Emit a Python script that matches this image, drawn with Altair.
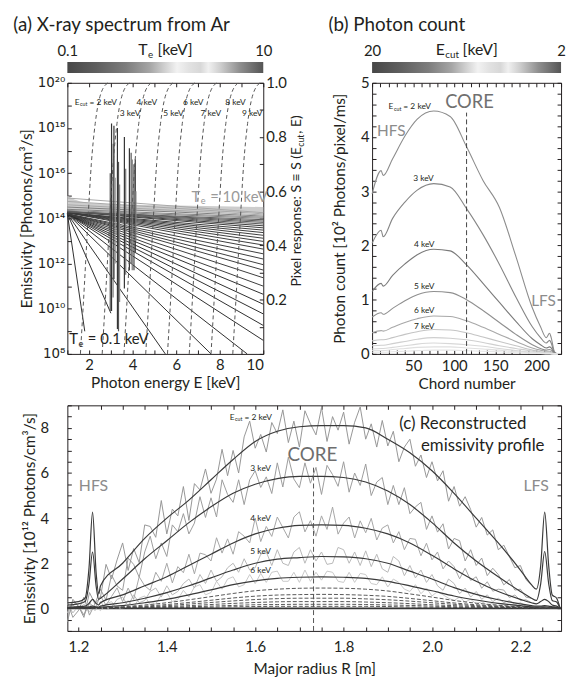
import altair as alt
import pandas as pd

FONT = "Lato"
SUP_FONT = "DejaVu Sans"
INK = "#231f20"
SOFT = "#8c8c8c"

WA, HA = 198, 274
WB = 191
GAP = 110
XB0 = WA + GAP            # left edge of panel (b)
W = XB0 + WB              # full plot width
WC, HC = W, 228
YC0 = HA + 52             # top edge of panel (c)
H = YC0 + HC              # full plot height
TICK_IN = alt.ExprRef(expr="-4")
SMALL = 8.5               # size of the small E_cut labels

# ---------------- colour bar stops ----------------
cb_offsets = [0.0, 0.15, 0.3, 0.42, 0.5, 0.56, 0.62, 0.68, 0.72, 0.78, 0.88, 1.0]
cb_colors = ["#474747", "#5f5f5f", "#7d7d7d", "#a5a5a5", "#d2d2d2", "#f2f2f2",
             "#e2e2e2", "#d8d8d8", "#f0f0f0", "#cfcfcf", "#8f8f8f", "#555555"]

# ---------------- (a) X-ray spectrum ----------------
energy_range = [1, 10]
log_eps_range = [8, 20]
s_range = [0, 1]
te_range = [0.1, 10]

cont_y0 = [14.2, 14.2, 14.2, 14.2, 14.2, 14.2, 14.2, 14.2, 14.2, 14.2, 14.2, 14.2, 14.2, 14.2, 14.2, 14.2,
           14.25, 14.25, 14.25, 14.25, 14.25, 14.25, 14.25,
           14.3, 14.3, 14.3, 14.3, 14.3, 14.3,
           14.35, 14.4, 14.5, 14.6, 14.75, 14.9]
cont_end_e = [1.8, 3.0, 5.5, 7.6, 9.26] + [10.0] * 30
cont_end_y = [9.0, 9.8, 8.0, 8.0, 8.0, 8.6, 9.26, 9.77, 10.2, 10.64,
              11.0, 11.37, 11.71, 11.95, 12.2, 12.43, 12.64, 12.82, 12.98, 13.12,
              13.25, 13.37, 13.48, 13.58, 13.67, 13.75, 13.82, 13.88, 13.94, 14.0,
              14.05, 14.1, 14.15, 14.2, 14.25]
cont_color = ["#2e2e2e"] * 10 + ["#3c3c3c"] * 15 + ["#5a5a5a"] * 4 + ["#808080"] * 3 + ["#a8a8a8"] * 3

band_e = [1.0, 1.3, 1.6, 2.0, 3.0, 4.0, 6.0, 8.0, 10.0]
band_top = [15.0, 14.85, 14.75, 14.68, 14.62, 14.6, 14.57, 14.54, 14.5]
band_bot = [14.4, 14.38, 14.36, 14.35, 14.33, 14.31, 14.28, 14.26, 14.25]

spike_e = [2.97, 3.03, 3.10, 3.14, 3.20, 3.30, 3.35, 3.40, 3.62, 3.68, 3.85, 3.93, 3.98, 4.06, 4.12, 4.15]
spike_top = [16.0, 18.2, 17.3, 18.1, 15.8, 18.0, 16.5, 15.5, 17.6, 16.2, 17.1, 16.9, 16.6, 16.4, 16.6, 15.2]
spike_bot = [9.9, 9.9, 10.5, 11.3, 12.0, 9.1, 9.0, 10.3, 10.9, 11.5, 11.7, 12.0, 11.7, 11.7, 12.5, 13.0]
spike_color = ["#555555", "#333333", "#777777", "#333333", "#999999", "#333333", "#555555", "#888888",
               "#333333", "#777777", "#333333", "#555555", "#777777", "#444444", "#333333", "#888888"]

ecut_a = [2, 3, 4, 5, 6, 7, 8, 9]
s_levels = [0.0, 0.25, 0.5, 0.7, 0.85, 0.95, 1.0]
s_curve_e = [
    [1.6, 1.78, 1.95, 2.1, 2.28, 2.5, 2.85],
    [2.6, 2.78, 2.95, 3.1, 3.28, 3.5, 3.85],
    [3.6, 3.78, 3.95, 4.1, 4.28, 4.5, 4.85],
    [4.6, 4.78, 4.95, 5.1, 5.28, 5.5, 5.85],
    [5.6, 5.78, 5.95, 6.1, 6.28, 6.5, 6.85],
    [6.6, 6.78, 6.95, 7.1, 7.28, 7.5, 7.85],
    [7.6, 7.78, 7.95, 8.1, 8.28, 8.5, 8.85],
    [8.6, 8.78, 8.95, 9.1, 9.28, 9.5, 9.85],
]
a_lab_text = ["3 keV", "4 keV", "5 keV", "6 keV", "7 keV", "8 keV", "9 keV"]
a_lab_e = [3.41, 4.18, 5.40, 6.31, 7.12, 8.25, 9.02]
a_lab_s = [0.89, 0.93, 0.89, 0.93, 0.89, 0.93, 0.89]

# ---------------- (b) photon count ----------------
chord_range = [0, 230]
count_range = [0, 5]
ecut_range = [2, 20]
chord = [0, 11, 13.5, 25, 40, 55, 75, 95, 115, 135, 155, 175, 195, 205, 212, 216, 218, 222, 226]
count_ecut = [2, 3, 4, 5, 6, 7, 8, 9, 10, 12]
count_vals = [
    [2.95, 3.38, 3.29, 3.6, 4.02, 4.33, 4.48, 4.38, 3.82, 3.2, 2.7, 1.8, 0.85, 0.5, 0.3, 0.38, 0.3, 0.04, 0.0],
    [2.04, 2.28, 2.16, 2.5, 2.8, 3.02, 3.14, 3.08, 2.68, 2.2, 1.65, 1.05, 0.5, 0.3, 0.2, 0.25, 0.2, 0.02, 0.0],
    [1.15, 1.3, 1.25, 1.45, 1.66, 1.83, 1.93, 1.9, 1.64, 1.3, 0.95, 0.6, 0.28, 0.17, 0.11, 0.13, 0.11, 0.01, 0.0],
    [0.68, 0.76, 0.73, 0.84, 0.98, 1.09, 1.15, 1.13, 1.0, 0.8, 0.58, 0.36, 0.17, 0.1, 0.07, 0.08, 0.07, 0.01, 0.0],
    [0.39, 0.43, 0.42, 0.49, 0.58, 0.65, 0.7, 0.69, 0.61, 0.49, 0.36, 0.23, 0.11, 0.07, 0.05, 0.05, 0.04, 0.0, 0.0],
    [0.24, 0.26, 0.26, 0.3, 0.36, 0.41, 0.45, 0.44, 0.39, 0.31, 0.23, 0.15, 0.07, 0.04, 0.03, 0.03, 0.02, 0.0, 0.0],
    [0.15, 0.16, 0.16, 0.19, 0.23, 0.27, 0.3, 0.29, 0.26, 0.21, 0.15, 0.1, 0.05, 0.03, 0.02, 0.02, 0.01, 0.0, 0.0],
    [0.09, 0.1, 0.1, 0.12, 0.15, 0.18, 0.2, 0.19, 0.17, 0.14, 0.1, 0.06, 0.03, 0.02, 0.01, 0.01, 0.01, 0.0, 0.0],
    [0.06, 0.06, 0.06, 0.08, 0.1, 0.12, 0.13, 0.13, 0.11, 0.09, 0.07, 0.04, 0.02, 0.01, 0.01, 0.01, 0.0, 0.0, 0.0],
    [0.03, 0.03, 0.03, 0.04, 0.05, 0.06, 0.07, 0.07, 0.06, 0.05, 0.04, 0.02, 0.01, 0.01, 0.0, 0.0, 0.0, 0.0, 0.0],
]
count_color = ["#8c8c8c", "#858585", "#7a7a7a", "#8f8f8f", "#a8a8a8", "#c4c4c4", "#cfcfcf", "#d8d8d8", "#e0e0e0", "#e6e6e6"]
core_chord = 115
b_lab_text = ["3 keV", "4 keV", "5 keV", "6 keV", "7 keV"]
b_lab_chord = [50, 51, 51, 51, 51]
b_lab_val = [3.24, 2.03, 1.26, 0.80, 0.52]

# ---------------- (c) reconstructed emissivity ----------------
radius_range = [1.175, 2.292]
emis_range = [-1, 9]
core_r = 1.732
fit_main_r = [1.25, 1.30, 1.35, 1.40, 1.45, 1.50, 1.55, 1.60, 1.65, 1.70, 1.75,
              1.80, 1.85, 1.90, 1.95, 2.00, 2.05, 2.10, 2.15, 2.20, 2.225]
fit_left_r = [1.175, 1.20, 1.215, 1.224, 1.232, 1.240, 1.246]
fit_right_r = [2.236, 2.246, 2.255, 2.264, 2.272, 2.282, 2.29]
fit_main = {
    2: [1.0, 2.0, 3.1, 4.0, 4.8, 5.7, 6.6, 7.4, 7.85, 8.05, 8.1, 8.1, 8.0, 7.5, 6.9, 6.1, 5.1, 4.0, 2.9, 1.7, 1.05],
    3: [0.45, 1.3, 2.2, 3.0, 3.8, 4.5, 5.1, 5.5, 5.75, 5.85, 5.85, 5.8, 5.6, 5.2, 4.6, 3.8, 2.9, 2.1, 1.4, 0.75, 0.45],
    4: [0.25, 0.6, 1.0, 1.4, 1.9, 2.4, 2.9, 3.3, 3.55, 3.68, 3.7, 3.68, 3.55, 3.3, 2.9, 2.35, 1.75, 1.2, 0.75, 0.4, 0.25],
    5: [0.1, 0.25, 0.45, 0.7, 1.0, 1.35, 1.7, 2.0, 2.18, 2.25, 2.3, 2.28, 2.2, 2.0, 1.65, 1.3, 0.92, 0.62, 0.38, 0.2, 0.12],
    6: [0.05, 0.12, 0.25, 0.4, 0.6, 0.82, 1.05, 1.22, 1.33, 1.38, 1.4, 1.38, 1.33, 1.2, 1.0, 0.78, 0.55, 0.37, 0.22, 0.12, 0.07],
    7: [0.03, 0.07, 0.15, 0.25, 0.38, 0.52, 0.66, 0.78, 0.85, 0.89, 0.9, 0.89, 0.85, 0.77, 0.64, 0.5, 0.35, 0.23, 0.14, 0.07, 0.04],
    8: [0.02, 0.05, 0.1, 0.17, 0.26, 0.36, 0.46, 0.54, 0.59, 0.61, 0.62, 0.61, 0.58, 0.53, 0.44, 0.34, 0.24, 0.16, 0.1, 0.05, 0.03],
    9: [0.01, 0.03, 0.07, 0.12, 0.19, 0.26, 0.33, 0.39, 0.43, 0.45, 0.45, 0.45, 0.42, 0.38, 0.32, 0.25, 0.18, 0.12, 0.07, 0.04, 0.02],
    10: [0.01, 0.02, 0.05, 0.08, 0.12, 0.17, 0.22, 0.26, 0.29, 0.3, 0.3, 0.3, 0.28, 0.25, 0.21, 0.16, 0.12, 0.08, 0.05, 0.03, 0.01],
    12: [0.0, 0.01, 0.03, 0.05, 0.07, 0.1, 0.13, 0.16, 0.17, 0.18, 0.18, 0.18, 0.17, 0.15, 0.13, 0.1, 0.07, 0.05, 0.03, 0.02, 0.01],
    15: [0.0, 0.01, 0.01, 0.02, 0.04, 0.05, 0.07, 0.08, 0.09, 0.09, 0.09, 0.09, 0.09, 0.08, 0.06, 0.05, 0.04, 0.02, 0.01, 0.01, 0.0],
}
fit_left = {
    2: [0.25, 0.3, 0.45, 1.8, 4.27, 1.6, 0.65],
    3: [0.15, 0.2, 0.3, 1.1, 2.5, 1.0, 0.4],
    4: [0.05, 0.08, 0.1, 0.22, 0.4, 0.22, 0.15],
    5: [0.02, 0.03, 0.05, 0.07, 0.1, 0.07, 0.06],
    6: [0.01, 0.02, 0.02, 0.03, 0.04, 0.03, 0.03],
}
fit_right = {
    2: [0.85, 1.9, 4.27, 1.9, 0.6, 0.45, 0.0],
    3: [0.35, 1.1, 2.52, 1.1, 0.35, 0.28, 0.0],
    4: [0.2, 0.3, 0.4, 0.3, 0.15, 0.1, 0.0],
    5: [0.1, 0.1, 0.12, 0.1, 0.07, 0.05, 0.0],
    6: [0.06, 0.06, 0.07, 0.06, 0.04, 0.03, 0.0],
}
noise_r = [round(1.175 + 0.0125 * k, 4) for k in range(85)]
noisy = {
    2: [-0.6, 0.4, 0.1, -0.4, 0.7, 0.2,
        0.5, 1.95, 1.3, 2.15, 2.9, 1.68, 2.65, 2.03, 3.7, 3.63,
        3.15, 4.78, 3.3, 4.4, 4.1, 5.4, 3.9, 5.53, 5.25, 6.18,
        5.1, 5.73, 7.05, 5.88, 7.0, 6.0, 7.6, 8.3, 7.1, 7.71,
        6.93, 8.24, 7.75, 8.8, 7.35, 8.3, 7.15, 8.76, 8.18, 7.69,
        8.9, 7.4, 8.5, 7.9, 8.7, 7.28, 8.25, 8.93, 7.5, 8.18,
        7.15, 8.33, 7.2, 7.85, 6.5, 7.15, 7.5, 6.3, 6.8, 5.8,
        6.5, 5.65, 6.1, 4.75, 5.4, 4.53, 4.95, 4.38, 3.6, 4.03,
        3.25, 3.48, 2.6, 2.8, 2.3, 1.8, 1.9, 1.28, 1.05],
    3: [0.3, -0.4, -0.1, 0.5, -0.3, 0.2,
        0.85, 0.36, 1.48, 0.99, 0.8, 2.23, 1.95, 1.38, 2.5, 3.2,
        2.2, 2.9, 2.3, 3.7, 3.4, 4.2, 3.3, 3.78, 4.95, 4.03,
        4.9, 4.05, 5.7, 5.05, 4.7, 5.7, 4.6, 5.7, 6.1, 5.36,
        5.83, 5.09, 6.45, 5.38, 6.7, 5.73, 5.35, 6.45, 5.55, 6.25,
        5.05, 6.34, 5.93, 5.41, 6.5, 5.15, 6.0, 5.45, 6.4, 5.0,
        5.6, 5.8, 4.6, 5.45, 4.6, 5.35, 4.2, 4.5, 4.7, 3.5,
        4.1, 3.38, 3.75, 2.63, 3.1, 3.0, 2.1, 2.6, 1.9, 2.23,
        1.45, 1.78, 1.5, 1.04, 1.28, 0.81, 0.85, 0.5, 0.45],
    4: [-0.2, 0.3, 0.1, -0.3, 0.25, 0.0,
        0.55, 0.14, 0.53, 0.91, 0.3, 0.9, 0.4, 1.4, 1.0, 0.8,
        1.6, 1.2, 2.0, 1.13, 1.85, 1.58, 2.4, 1.53, 2.45, 2.38,
        2.1, 3.13, 2.45, 3.08, 2.4, 3.4, 3.2, 2.9, 4.0, 2.96,
        3.63, 3.19, 4.05, 3.58, 3.12, 4.05, 4.28, 3.39, 3.89, 3.2,
        4.1, 3.5, 4.49, 3.29, 3.78, 4.05, 3.12, 3.88, 3.35, 3.99,
        3.03, 3.56, 3.7, 2.9, 3.4, 2.6, 3.1, 3.06, 2.33, 2.89,
        2.15, 2.5, 1.75, 2.1, 1.85, 1.31, 1.78, 1.24, 1.4, 0.89,
        1.18, 0.76, 0.85, 0.81, 0.48, 0.59, 0.35, 0.38, 0.25],
    5: [0.2, -0.2, 0.1, -0.3, 0.2, -0.1,
        0.3, -0.05, 0.05, 0.4, 0.5, 0.1, 0.6, 0.25, 0.35, 0.75,
        0.9, 0.5, 1.0, 0.6, 0.75, 1.1, 1.3, 0.9, 1.5, 1.1,
        1.7, 1.2, 1.4, 1.8, 2.0, 1.6, 2.2, 1.7, 1.8, 2.4,
        2.5, 1.9, 2.6, 2.0, 1.9, 2.5, 2.7, 2.0, 2.6, 2.1,
        2.5, 1.95, 2.0, 2.7, 2.6, 2.0, 2.5, 1.9, 2.55, 1.85,
        2.4, 1.75, 1.6, 2.3, 2.1, 1.45, 1.9, 1.35, 1.7, 1.15,
        1.5, 1.0, 0.8, 1.3, 1.1, 0.65, 0.9, 0.5, 0.75, 0.4,
        0.6, 0.3, 0.45, 0.25, 0.35, 0.18, 0.25, 0.1, 0.12],
    6: [-0.2, 0.15, -0.1, 0.2, -0.15, 0.1,
        -0.1, 0.2, 0.3, -0.05, 0.0, 0.35, 0.05, 0.45, 0.55, 0.15,
        0.2, 0.6, 0.7, 0.3, 0.4, 0.8, 0.5, 0.95, 1.05, 0.6,
        0.7, 1.2, 0.85, 1.3, 1.4, 0.95, 1.05, 1.5, 1.1, 1.55,
        1.15, 1.6, 1.65, 1.2, 1.2, 1.6, 1.15, 1.7, 1.2, 1.6,
        1.25, 1.65, 1.6, 1.2, 1.15, 1.6, 1.15, 1.55, 1.5, 1.1,
        1.05, 1.4, 0.95, 1.3, 1.15, 0.85, 0.75, 1.05, 0.65, 0.9,
        0.55, 0.75, 0.6, 0.45, 0.35, 0.5, 0.28, 0.4, 0.2, 0.3,
        0.15, 0.22, 0.1, 0.17, 0.06, 0.12, 0.04, 0.09, 0.05],
}
noisy_color = {2: "#969696", 3: "#9c9c9c", 4: "#a6a6a6", 5: "#b8b8b8", 6: "#c8c8c8"}
c_lab_text = ["3 keV", "4 keV", "5 keV", "6 keV"]
c_lab_r = [1.589, 1.589, 1.589, 1.589]
c_lab_val = [6.2, 3.99, 2.52, 1.72]

# ---------------- helpers ----------------
GRAD = {"gradient": "linear", "x1": 0, "x2": 1, "y1": 0, "y2": 0,
        "stops": [{"offset": o, "color": c} for o, c in zip(cb_offsets, cb_colors)]}
ONE = pd.DataFrame({"k": [0]})
RA = [0, WA]          # x pixel range of panel (a)
RB = [XB0, W]         # x pixel range of panel (b)
RC = [0, W]           # x pixel range of panel (c)
RY_TOP = [HA, 0]      # y pixel range of panels (a), (b)
RY_C = [H, YC0]       # y pixel range of panel (c)


def qx(field, dom, rng, axis=None, log=False, reverse=False):
    kw = dict(domain=dom, nice=False, range=rng)
    if log:
        sc = alt.Scale(type="log", reverse=reverse, **kw)
    else:
        sc = alt.Scale(zero=False, **kw)
    return alt.X(field, type="quantitative", scale=sc, axis=axis)


def qy(field, dom, rng, axis=None):
    return alt.Y(field, type="quantitative",
                 scale=alt.Scale(domain=dom, nice=False, zero=False, range=rng), axis=axis)


def axis(orient, values, expr=None, pad=7, font=FONT, size=15, labels=True, title=None, tx=None, ty=None,
         offset=None):
    kw = dict(orient=orient, values=values, tickSize=TICK_IN, tickColor=INK, tickWidth=1,
              domainColor=INK, domainWidth=1, grid=False, labels=labels, labelOverlap=False)
    if offset is not None:
        kw["offset"] = offset
    if labels:
        kw.update(labelFont=font, labelFontSize=size, labelColor=INK, labelPadding=pad)
        if expr:
            kw["labelExpr"] = expr
    if title:
        kw.update(title=title, titleFont=FONT, titleFontSize=15.5, titleFontWeight="normal", titleColor=INK,
                  titleX=tx, titleY=ty, titleBaseline="middle", titleAlign="center")
    else:
        kw["title"] = None
    return alt.Axis(**kw)


def composed(enc, base, sub, rest, size, color, d, wsub, angle=None, df=None):
    src = df if df is not None else ONE
    common = dict(font=FONT, color=color, baseline="middle")
    if angle is not None:
        common["angle"] = angle
    parts = [
        alt.Chart(src).mark_text(text=base, align="right", dx=d, fontSize=size, **common),
        alt.Chart(src).mark_text(text=sub, align="left", dx=d + 0.5, dy=round(size * 0.3, 1),
                                 fontSize=round(size * 0.62, 1), **common),
        alt.Chart(src).mark_text(text=rest, align="left", dx=d + wsub, fontSize=size, **common),
    ]
    return [p.encode(**enc) for p in parts]


def colorbar(dom, values, expr, reverse, rng):
    df = pd.DataFrame({"lo": [dom[0]], "hi": [dom[1]]})
    ax = alt.Axis(orient="top", values=values, offset=21, ticks=False, domain=False, grid=False,
                  labelFlush=False, labelPadding=4, labelFont=FONT, labelFontSize=15, labelColor=INK,
                  labelExpr=expr, title=None, labelOverlap=False)
    return alt.Chart(df).mark_rect(color=GRAD).encode(
        x=qx("lo:Q", dom, rng, ax, log=True, reverse=reverse), x2="hi:Q",
        y=alt.value(-21), y2=alt.value(-10))


def panel_title(text, x):
    return alt.Chart(ONE).mark_text(text=text, align="left", baseline="alphabetic", font=FONT,
                                    fontSize=19, color=INK).encode(x=alt.value(x), y=alt.value(-52))


def simple_text(df, xdom, ydom, xr, yr, align, baseline="middle"):
    return alt.Chart(df).mark_text(align=align, baseline=baseline, font=FONT).encode(
        x=qx("x:Q", xdom, xr), y=qy("y:Q", ydom, yr), text="t:N",
        size=alt.Size("fs:Q", scale=None), color=alt.Color("c:N", scale=None))


def pt(x, y):
    return pd.DataFrame({"x": [x], "y": [y]})


# ================= panel (a) =================
sup = {8: "10⁸", 10: "10¹⁰", 12: "10¹²", 14: "10¹⁴", 16: "10¹⁶", 18: "10¹⁸", 20: "10²⁰"}
sup_expr = " : ".join(f"datum.value == {k} ? '{v}'" for k, v in sup.items()) + " : ''"

ax_a_bottom = axis("bottom", list(range(1, 11)), "datum.value % 2 == 0 ? datum.value : ''", pad=7.5,
                   title="Photon energy E [keV]", tx=WA / 2, ty=29, offset=-(H - HA))
ax_a_left = axis("left", list(range(8, 21)), sup_expr, pad=6.5, font=SUP_FONT, size=13.5,
                 title="Emissivity [Photons/cm³/s]", tx=-41, ty=HA / 2)
ax_a_top = axis("top", list(range(1, 11)), labels=False)
ax_a_right = axis("right", [round(0.1 * i, 1) for i in range(11)],
                  "datum.value > 0.15 && round(datum.value * 10) % 2 == 0 ? format(datum.value, '.1f') : ''",
                  pad=6.5, offset=-(W - WA))

band_df = pd.DataFrame({"E": band_e, "top": band_top, "bot": band_bot})
cont_rows = []
for i, (y0, xe, ye, col) in enumerate(zip(cont_y0, cont_end_e, cont_end_y, cont_color)):
    cont_rows.append({"line": i, "E": 1.0, "v": y0, "col": col})
    cont_rows.append({"line": i, "E": xe, "v": ye, "col": col})
cont_df = pd.DataFrame(cont_rows)
spike_df = pd.DataFrame({"E": spike_e, "top": spike_top, "bot": spike_bot, "col": spike_color})
s_rows = []
for ec, es in zip(ecut_a, s_curve_e):
    for e, s in zip(es, s_levels):
        s_rows.append({"ecut": ec, "E": e, "S": s})
s_df = pd.DataFrame(s_rows)
a_lab_df = pd.DataFrame({"x": a_lab_e, "y": a_lab_s, "t": a_lab_text,
                         "fs": [SMALL] * len(a_lab_e), "c": [INK] * len(a_lab_e)})

a_layers = [
    alt.Chart(band_df).mark_area(color="#cdcdcd").encode(
        x=qx("E:Q", energy_range, RA, ax_a_bottom), y=qy("top:Q", log_eps_range, RY_TOP, ax_a_left),
        y2="bot:Q"),
    alt.Chart(cont_df).mark_line(strokeWidth=1).encode(
        x=qx("E:Q", energy_range, RA, ax_a_top), y=qy("v:Q", log_eps_range, RY_TOP), detail="line:N",
        color=alt.Color("col:N", scale=None)),
    alt.Chart(spike_df).mark_rule(strokeWidth=1.2).encode(
        x=qx("E:Q", energy_range, RA), y=qy("bot:Q", log_eps_range, RY_TOP), y2="top:Q",
        color=alt.Color("col:N", scale=None)),
    alt.Chart(s_df).mark_line(color="#555555", strokeWidth=1, strokeDash=[4, 3],
                              interpolate="monotone").encode(
        x=qx("E:Q", energy_range, RA), y=qy("S:Q", s_range, RY_TOP, ax_a_right), detail="ecut:N"),
    simple_text(a_lab_df, energy_range, s_range, RA, RY_TOP, "left"),
    colorbar(te_range, [0.1, 10], "datum.value < 1 ? '0.1' : '10'", False, RA),
    panel_title("(a) X-ray spectrum from Ar", -54.7),
]
a_layers += composed(dict(x=qx("x:Q", energy_range, RA), y=qy("y:Q", s_range, RY_TOP)),
                     "E", "cut", "= 2 keV", SMALL, INK, 5, 10, df=pt(1.33, 0.93))
a_layers += composed(dict(x=qx("x:Q", energy_range, RA), y=qy("y:Q", log_eps_range, RY_TOP)),
                     "T", "e", "= 10 keV", 15, "#9a9a9a", 8.5, 10, df=pt(6.72, 14.95))
a_layers += composed(dict(x=qx("x:Q", energy_range, RA), y=qy("y:Q", log_eps_range, RY_TOP)),
                     "T", "e", "= 0.1 keV", 15, INK, 8.5, 10, df=pt(1.1, 8.65))
a_layers += composed(dict(x=alt.value(WA / 2), y=alt.value(-33)),
                     "T", "e", "[keV]", 16, INK, -18, 10)
a_layers += composed(dict(x=alt.value(WA + 34), y=alt.value(HA / 2)),
                     "Pixel response: S ≡ S (E", "cut", ", E)", 14, INK, 72, 13.5, angle=270)

# ================= panel (b) =================
ax_b_bottom = axis("bottom", list(range(0, 231, 10)),
                   "datum.value > 0 && datum.value % 50 == 0 ? datum.value : ''", pad=9,
                   title="Chord number", tx=XB0 + WB / 2, ty=29.5, offset=-(H - HA))
ax_b_left = axis("left", [round(0.2 * i, 1) for i in range(26)],
                 "abs(datum.value - round(datum.value)) < 0.01 ? format(datum.value, 'd') : ''", pad=7,
                 title="Photon count [10² Photons/pixel/ms]", tx=-33, ty=HA / 2, offset=-XB0)
ax_b_top = axis("top", list(range(0, 231, 10)), labels=False)
ax_b_right = axis("right", [round(0.2 * i, 1) for i in range(26)], labels=False)

b_rows = []
for ec, vals, col in zip(count_ecut, count_vals, count_color):
    for ch, v in zip(chord, vals):
        b_rows.append({"ecut": ec, "chord": ch, "count": v, "col": col})
b_df = pd.DataFrame(b_rows)
b_lab_df = pd.DataFrame({"x": b_lab_chord, "y": b_lab_val, "t": b_lab_text,
                         "fs": [SMALL] * len(b_lab_text), "c": [INK] * len(b_lab_text)})
b_big_left = pd.DataFrame({"x": [6, 193.6], "y": [4.02, 0.88], "t": ["HFS", "LFS"],
                           "fs": [15.5, 15.5], "c": [SOFT, SOFT]})
b_big_center = pd.DataFrame({"x": [118.5], "y": [4.54], "t": ["CORE"], "fs": [18.5], "c": ["#707070"]})
b_core_df = pd.DataFrame({"x": [core_chord], "y": [0.0], "y2": [4.45]})

b_layers = [
    alt.Chart(b_df).mark_line(strokeWidth=1.1, interpolate="monotone").encode(
        x=qx("chord:Q", chord_range, RB, ax_b_bottom), y=qy("count:Q", count_range, RY_TOP, ax_b_left),
        detail="ecut:N", color=alt.Color("col:N", scale=None)),
    alt.Chart(b_core_df).mark_rule(color="#444444", strokeWidth=1, strokeDash=[5, 3]).encode(
        x=qx("x:Q", chord_range, RB, ax_b_top), y=qy("y:Q", count_range, RY_TOP, ax_b_right), y2="y2:Q"),
    simple_text(b_lab_df, chord_range, count_range, RB, RY_TOP, "left"),
    simple_text(b_big_left, chord_range, count_range, RB, RY_TOP, "left", "alphabetic"),
    simple_text(b_big_center, chord_range, count_range, RB, RY_TOP, "center", "alphabetic"),
    colorbar(ecut_range, [2, 20], "datum.value < 5 ? '2' : '20'", True, RB),
    panel_title("(b) Photon count", XB0 - 44),
]
b_layers += composed(dict(x=qx("x:Q", chord_range, RB), y=qy("y:Q", count_range, RY_TOP)),
                     "E", "cut", "= 2 keV", SMALL, INK, 5, 10, df=pt(20, 4.57))
b_layers += composed(dict(x=alt.value(XB0 + WB / 2), y=alt.value(-33)),
                     "E", "cut", "[keV]", 16, INK, -22, 18)

# ================= panel (c) =================
c_xticks = [round(1.2 + 0.05 * i, 2) for i in range(22)]
c_yticks = [round(-1 + 0.5 * i, 1) for i in range(21)]
ax_c_bottom = axis("bottom", c_xticks,
                   "abs(datum.value * 5 - round(datum.value * 5)) < 0.001 ? format(datum.value, '.1f') : ''",
                   pad=13, title="Major radius R [m]", tx=WC / 2, ty=38)
ax_c_left = axis("left", c_yticks,
                 "datum.value >= 0 && datum.value <= 8 && abs(datum.value / 2 - round(datum.value / 2)) < 0.001 ? datum.value : ''",
                 pad=23, title="Emissivity [10¹² Photons/cm³/s]", tx=-38, ty=YC0 + HC / 2)
ax_c_top = axis("top", c_xticks, labels=False, offset=-YC0)
ax_c_right = axis("right", c_yticks, labels=False)

zero_df = pd.DataFrame({"R": radius_range, "v": [0.0, 0.0]})
n_rows = []
for ec in [6, 5, 4, 3, 2]:
    for r, v in zip(noise_r, noisy[ec]):
        n_rows.append({"ecut": ec, "R": r, "v": v, "col": noisy_color[ec]})
n_df = pd.DataFrame(n_rows)
fs_rows, fd_rows = [], []
for ec, vals in fit_main.items():
    lr = fit_left_r if ec in fit_left else [radius_range[0]]
    lv = fit_left[ec] if ec in fit_left else [0.0]
    rr = fit_right_r if ec in fit_right else [2.29]
    rv = fit_right[ec] if ec in fit_right else [0.0]
    target = fs_rows if ec <= 6 else fd_rows
    for r, v in zip(lr + fit_main_r + rr, lv + vals + rv):
        target.append({"ecut": ec, "R": r, "v": v})
fs_df = pd.DataFrame(fs_rows)
fd_df = pd.DataFrame(fd_rows)
c_core_df = pd.DataFrame({"x": [core_r], "y": [-1.0], "y2": [6.35]})
c_lab_df = pd.DataFrame({"x": c_lab_r, "y": c_lab_val, "t": c_lab_text,
                         "fs": [SMALL] * len(c_lab_text), "c": [INK] * len(c_lab_text)})
c_big_left = pd.DataFrame({"x": [1.201, 2.207, 1.926, 1.975], "y": [5.22, 5.22, 7.93, 6.98],
                           "t": ["HFS", "LFS", "(c) Reconstructed", "emissivity profile"],
                           "fs": [16, 16, 17, 17], "c": [SOFT, SOFT, INK, INK]})
c_big_center = pd.DataFrame({"x": [1.7295], "y": [6.54], "t": ["CORE"], "fs": [19], "c": ["#6e6e6e"]})

c_layers = [
    alt.Chart(zero_df).mark_line(color="#333333", strokeWidth=1.6).encode(
        x=qx("R:Q", radius_range, RC, ax_c_bottom), y=qy("v:Q", emis_range, RY_C, ax_c_left)),
    alt.Chart(n_df).mark_line(strokeWidth=1).encode(
        x=qx("R:Q", radius_range, RC), y=qy("v:Q", emis_range, RY_C), detail="ecut:N",
        color=alt.Color("col:N", scale=None)),
    alt.Chart(fd_df).mark_line(color="#444444", strokeWidth=0.9, strokeDash=[4, 2],
                               interpolate="monotone").encode(
        x=qx("R:Q", radius_range, RC), y=qy("v:Q", emis_range, RY_C), detail="ecut:N"),
    alt.Chart(fs_df).mark_line(color="#3a3a3a", strokeWidth=1.2, interpolate="monotone").encode(
        x=qx("R:Q", radius_range, RC), y=qy("v:Q", emis_range, RY_C), detail="ecut:N"),
    alt.Chart(c_core_df).mark_rule(color="#555555", strokeWidth=1, strokeDash=[5, 3]).encode(
        x=qx("x:Q", radius_range, RC, ax_c_top), y=qy("y:Q", emis_range, RY_C, ax_c_right), y2="y2:Q"),
    simple_text(c_lab_df, radius_range, emis_range, RC, RY_C, "left"),
    simple_text(c_big_left, radius_range, emis_range, RC, RY_C, "left", "alphabetic"),
    simple_text(c_big_center, radius_range, emis_range, RC, RY_C, "center", "alphabetic"),
]
c_layers += composed(dict(x=qx("x:Q", radius_range, RC), y=qy("y:Q", emis_range, RY_C)),
                     "E", "cut", "= 2 keV", SMALL, INK, 5, 10, df=pt(1.542, 8.5))

chart = alt.layer(*(a_layers + b_layers + c_layers)).resolve_scale(
    x="independent", y="independent"
).properties(
    width=W, height=H, padding={"left": 5, "top": 5, "right": 0, "bottom": 0}, background="white"
).configure(font=FONT).configure_view(stroke="transparent")

chart.save("out.html", embed_options={"renderer": "svg", "actions": False})
